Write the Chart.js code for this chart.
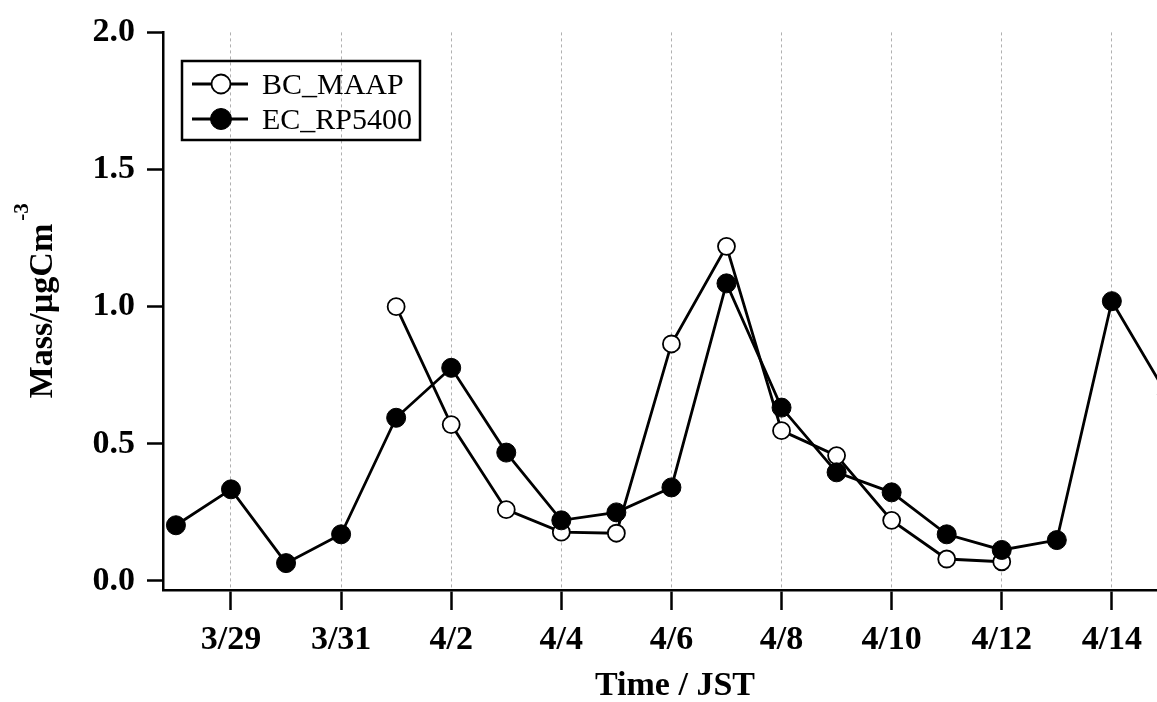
<!DOCTYPE html>
<html>
<head>
<meta charset="utf-8">
<script src="https://cdn.jsdelivr.net/npm/chart.js@4.4.1/dist/chart.umd.min.js"></script>
<style>
  html, body { margin: 0; padding: 0; background: #fff; overflow: hidden; }
  #wrap { width: 1157px; height: 702px; }
</style>
</head>
<body>
<div id="wrap"><canvas id="chart" width="1157" height="702"></canvas></div>
<script>
// daily samples, 3/28 .. 4/15
const dates = ['3/28', '3/29', '3/30', '3/31', '4/1', '4/2', '4/3', '4/4', '4/5', '4/6',
               '4/7', '4/8', '4/9', '4/10', '4/11', '4/12', '4/13', '4/14', '4/15'];
const bcMaap = [null, null, null, null, 1.00, 0.57, 0.26, 0.178, 0.174, 0.864,
                1.22, 0.548, 0.457, 0.221, 0.08, 0.07, null, null, null];
const ecRp5400 = [0.203, 0.334, 0.065, 0.17, 0.595, 0.777, 0.468, 0.221, 0.25, 0.341,
                  1.085, 0.632, 0.396, 0.323, 0.17, 0.113, 0.149, 1.02, 0.68];
const xTickLabels = ['3/29', '3/31', '4/2', '4/4', '4/6', '4/8', '4/10', '4/12', '4/14'];
const yTickValues = [0, 0.5, 1.0, 1.5, 2.0];

const serif = '"Liberation Serif", "Times New Roman", serif';
const toPoints = vals => vals.map((v, i) => ({ x: i, y: v }));

// titles + framed legend (superscript needs manual drawing)
const decorations = {
    id: 'decorations',
    afterDraw(chart) {
        const { ctx } = chart;
        ctx.save();
        ctx.fillStyle = '#000';

        // y title
        ctx.save();
        ctx.translate(52, 311);
        ctx.rotate(-Math.PI / 2);
        ctx.font = 'bold 34px ' + serif;
        ctx.textAlign = 'center';
        ctx.textBaseline = 'alphabetic';
        ctx.fillText('Mass/µgCm', 0, 0);
        const w = ctx.measureText('Mass/µgCm').width;
        ctx.font = 'bold 21px ' + serif;
        ctx.textAlign = 'left';
        ctx.fillText('-3', w / 2 + 3, -24);
        ctx.restore();

        // x title
        ctx.font = 'bold 34px ' + serif;
        ctx.textAlign = 'center';
        ctx.textBaseline = 'alphabetic';
        ctx.fillText('Time / JST', 675, 695);

        // legend
        ctx.lineWidth = 2.5;
        ctx.strokeStyle = '#000';
        ctx.strokeRect(182, 61, 238, 79);
        const rows = [84, 119];
        chart.data.datasets.forEach((ds, i) => {
            const y = rows[i];
            ctx.beginPath();
            ctx.moveTo(192, y);
            ctx.lineTo(248, y);
            ctx.lineWidth = 2.8;
            ctx.stroke();
            ctx.beginPath();
            ctx.arc(221, y, ds.pointRadius + 1, 0, Math.PI * 2);
            ctx.fillStyle = ds.pointBackgroundColor;
            ctx.fill();
            ctx.lineWidth = ds.pointBorderWidth;
            ctx.stroke();
            ctx.fillStyle = '#000';
            ctx.font = '30px ' + serif;
            ctx.textAlign = 'left';
            ctx.fillText(ds.label, 262, y + 10);
        });
        ctx.restore();
    }
};

new Chart(document.getElementById('chart'), {
    type: 'line',
    data: {
        datasets: [{
            label: 'BC_MAAP',
            data: toPoints(bcMaap),
            borderColor: '#000',
            borderWidth: 2.8,
            pointRadius: 8.5,
            pointBackgroundColor: '#fff',
            pointBorderColor: '#000',
            pointBorderWidth: 1.8,
            order: 2
        }, {
            label: 'EC_RP5400',
            data: toPoints(ecRp5400),
            borderColor: '#000',
            borderWidth: 2.8,
            pointRadius: 9.5,
            pointBackgroundColor: '#000',
            pointBorderColor: '#000',
            pointBorderWidth: 1,
            order: 1
        }]
    },
    options: {
        responsive: false,
        animation: false,
        layout: { autoPadding: false, padding: { top: 30, right: 0, bottom: 0, left: 0 } },
        scales: {
            x: {
                type: 'linear',
                min: -0.235,
                max: 17.82,
                afterBuildTicks: s => { s.ticks = xTickLabels.map(l => ({ value: dates.indexOf(l) })); },
                afterFit: s => { s.height = 112; },
                ticks: {
                    callback: v => dates[v],
                    font: { family: serif, size: 34, weight: 'bold' },
                    color: '#000',
                    padding: 10,
                    maxRotation: 0,
                    autoSkip: false
                },
                grid: {
                    color: '#b0b0b0',
                    lineWidth: 1,
                    tickColor: '#000',
                    tickWidth: 2.5,
                    tickLength: 20
                },
                border: { color: '#000', width: 2.5, dash: [3, 3] }
            },
            y: {
                min: -0.033,
                max: 2.0,
                afterBuildTicks: s => { s.ticks = yTickValues.map(v => ({ value: v })); },
                afterFit: s => { s.width = 163; },
                ticks: {
                    callback: v => v.toFixed(1),
                    font: { family: serif, size: 34, weight: 'bold' },
                    color: '#000',
                    padding: 12
                },
                grid: {
                    drawOnChartArea: false,
                    tickColor: '#000',
                    tickWidth: 2.5,
                    tickLength: 16
                },
                border: { color: '#000', width: 2.5 }
            }
        },
        plugins: {
            legend: { display: false },
            tooltip: { enabled: false }
        }
    },
    plugins: [decorations]
});
</script>
</body>
</html>
